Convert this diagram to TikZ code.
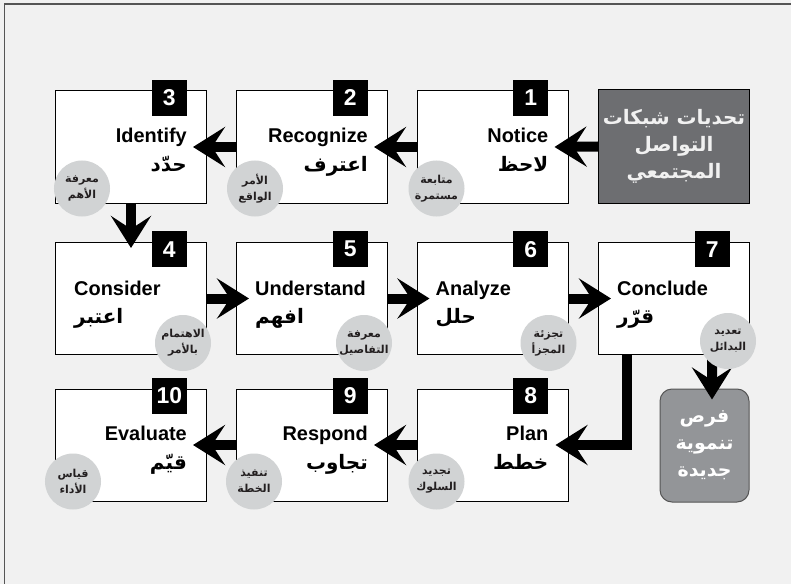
\documentclass[tikz,border=0pt]{standalone}
\usepackage{fontspec}
\setmainfont{Liberation Sans}
\newfontfamily\arabicfont[Script=Arabic]{DejaVu Sans}
\TeXXeTstate=1
\usetikzlibrary{arrows.meta,positioning}
\definecolor{panelbg}{HTML}{F1F1F1}
\definecolor{framegray}{HTML}{555555}
\definecolor{challenge}{HTML}{6D6E71}
\definecolor{chance}{HTML}{939598}
\definecolor{hintgray}{HTML}{D1D3D4}
\definecolor{hinttext}{HTML}{231F20}
\tikzset{
  stepbox/.style={draw=black, line width=1bp, fill=white, minimum width=151bp, minimum height=112bp, inner sep=0pt},
  numbox/.style={fill=black, text=white, font=\bfseries\fontsize{23}{23}\selectfont, minimum width=35bp, minimum height=36bp, inner sep=0pt, anchor=north east},
  entext/.style={inner sep=0pt, text=black, font=\bfseries\fontsize{20}{22}\selectfont},
  artext/.style={inner sep=0pt, text=black, font=\arabicfont\bfseries\fontsize{20}{22}\selectfont},
  hint/.style={circle, fill=hintgray, minimum size=56bp, inner sep=0pt, align=center, text=hinttext, font=\arabicfont\bfseries\fontsize{11}{16}\selectfont},
  flow/.style={line width=10bp, -{Stealth[length=32bp, width=40bp, inset=13bp]}},
}
\begin{document}
\begin{tikzpicture}[x=1bp,y=-1bp]
\fill[panelbg] (0,0) rectangle (791,584);
\useasboundingbox (0,0) rectangle (791,584);
\draw[framegray, line width=1.5bp] (4.5,584) -- (4.5,4) -- (791,4);
\node[draw=black, line width=1bp, fill=challenge, text=panelbg, minimum width=151bp, minimum height=113bp, align=center, font=\arabicfont\bfseries\fontsize{20}{27}\selectfont] (start) at (674,146.5) {\beginR تحديات شبكات\endR\\\beginR التواصل\endR\\\beginR المجتمعي\endR};
\foreach \i/\x/\y in {1/492.5/147, 2/312/147, 3/131/147, 4/131/298.5, 5/312/298.5, 6/492.5/298.5, 7/674/298.5, 8/492.5/445, 9/312/445, 10/131/445} { \node[stepbox] (b\i) at (\x,\y) {}; \node[numbox] (n\i) at ([xshift=-20bp,yshift=11bp]b\i.north east) {\i}; };
\node[draw=framegray, line width=1bp, fill=chance, text=white, rounded corners=12bp, minimum width=89bp, minimum height=113bp, align=center, font=\arabicfont\bfseries\fontsize{19}{27}\selectfont] (gain) at (704.5,445.5) {\beginR فرص\endR\\\beginR تنموية\endR\\\beginR جديدة\endR};
\foreach \i/\en/\ar in {1/Notice/لاحظ, 2/Recognize/اعترف, 3/Identify/حدّد, 8/Plan/خطط, 9/Respond/تجاوب, 10/Evaluate/قيّم} { \node[entext, anchor=base east] (e\i) at ([xshift=-20bp,yshift=-52bp]b\i.north east) {\en}; \node[artext, anchor=base east] (a\i) at ([xshift=-20bp,yshift=-81bp]b\i.north east) {\beginR\ar\endR}; };
\foreach \i/\en/\ar in {4/Consider/اعتبر, 5/Understand/افهم, 6/Analyze/حلل, 7/Conclude/قرّر} { \node[entext, anchor=base west] (e\i) at ([xshift=19bp,yshift=-53bp]b\i.north west) {\en}; \node[artext, anchor=base west] (a\i) at ([xshift=19bp,yshift=-81bp]b\i.north west) {\beginR\ar\endR}; };
\draw[flow] (start.west) -- ([xshift=-14bp]b1.east);
\draw[flow] (b1.west) -- ([xshift=-14bp]b2.east);
\draw[flow] (b2.west) -- ([xshift=-14bp]b3.east);
\draw[flow] (b3.south) -- ([yshift=-6bp]b4.north);
\draw[flow] (b4.east) -- ([xshift=13bp]b5.west);
\draw[flow] (b5.east) -- ([xshift=13bp]b6.west);
\draw[flow] (b6.east) -- ([xshift=13bp]b7.west);
\draw[flow] ([xshift=-47bp]b7.south) |- ([xshift=-13bp]b8.east);
\draw[flow] ([xshift=38bp]b7.south) -- ([xshift=7.5bp,yshift=-11bp]gain.north);
\draw[flow] (b8.west) -- ([xshift=-14bp]b9.east);
\draw[flow] (b9.west) -- ([xshift=-14bp]b10.east);
\foreach \i/\a/\dx/\dy/\ha/\hb in {1/south west/20/15/متابعة/مستمرة, 2/south west/19/15/الأمر/الواقع, 3/south west/27/15/معرفة/الأهم, 4/south east/-24/12/الاهتمام/بالأمر, 5/south east/-24/12/معرفة/التفاصيل, 6/south east/-20/12/تجزئة/المجزأ, 7/south east/-22/14/تعديد/البدائل, 8/south west/20/20/تجديد/السلوك, 9/south west/18/20/تنفيذ/الخطة, 10/south west/18/20/قياس/الأداء} { \node[hint] (h\i) at ([xshift=\dx bp,yshift=\dy bp]b\i.\a) {\beginR\ha\endR\\\beginR\hb\endR}; };
\end{tikzpicture}
\end{document}
